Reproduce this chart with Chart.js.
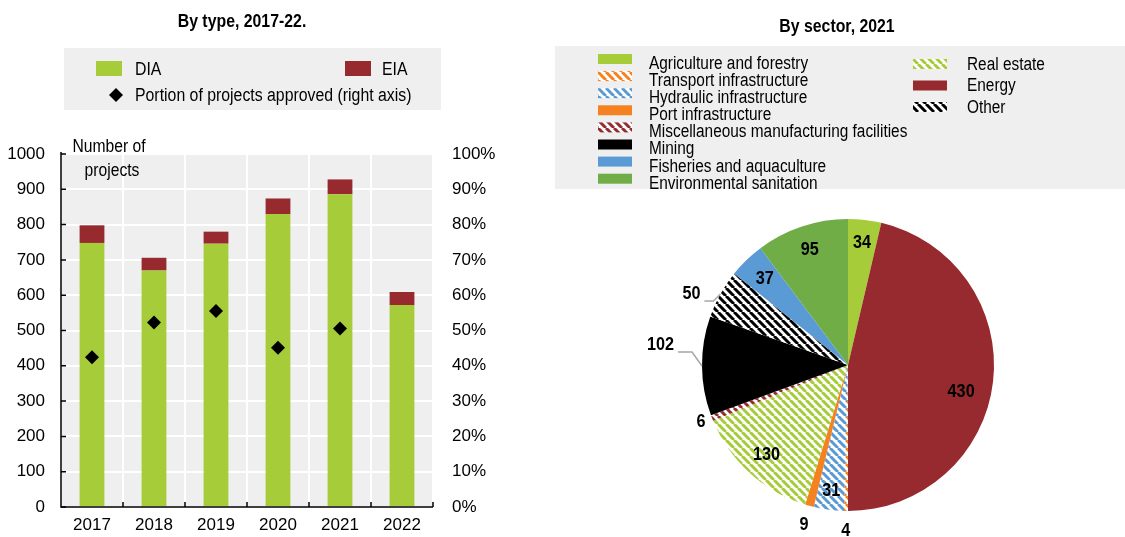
<!DOCTYPE html>
<html>
<head>
<meta charset="utf-8">
<script src="https://cdn.jsdelivr.net/npm/chart.js@4.4.1/dist/chart.umd.min.js"></script>
<style>
  body { margin: 0; background: #fff; width: 1125px; height: 537px; overflow: hidden; position: relative; }
  #typeChart { position: absolute; left: 0; top: 0; }
  #sectorChart { position: absolute; left: 550px; top: 0; }
</style>
</head>
<body>
<canvas id="typeChart" width="550" height="537"></canvas>
<canvas id="sectorChart" width="575" height="537"></canvas>
<script>
// --- data ---
const years = ['2017', '2018', '2019', '2020', '2021', '2022']
const diaProjects = [748, 670, 746, 830, 886, 572]
const eiaProjects = [50, 36, 34, 44, 42, 37]
const shareApproved = [42.4, 52.3, 55.5, 45.1, 50.6, null]
const countTicks = [0, 100, 200, 300, 400, 500, 600, 700, 800, 900, 1000]
const shareTicks = [0, 10, 20, 30, 40, 50, 60, 70, 80, 90, 100]

const sectors = ['Agriculture and forestry', 'Energy', 'Transport infrastructure', 'Hydraulic infrastructure',
  'Port infrastructure', 'Real estate', 'Miscellaneous manufacturing facilities', 'Mining', 'Other',
  'Fisheries and aquaculture', 'Environmental sanitation']
const sectorProjects = [34, 430, 4, 31, 9, 130, 6, 102, 50, 37, 95]
const legendCol1 = ['Agriculture and forestry', 'Transport infrastructure', 'Hydraulic infrastructure',
  'Port infrastructure', 'Miscellaneous manufacturing facilities', 'Mining', 'Fisheries and aquaculture',
  'Environmental sanitation']
const legendCol2 = ['Real estate', 'Energy', 'Other']

// --- styles ---
const FONT = "'Liberation Sans', Arial, sans-serif"
const GREEN = '#a7cc39'
const RED = '#962a2f'
const BLUE = '#5b9bd5'
const ENV_GREEN = '#70ad47'
const ORANGE = '#f58220'
const PANEL = '#efefef'

// no narrow font installed: squeeze text horizontally instead
function narrowText(ctx, text, x, y, font, align, sx) {
  ctx.save()
  ctx.font = font
  ctx.textAlign = align
  ctx.textBaseline = 'middle'
  ctx.translate(x, y)
  ctx.scale(sx, 1)
  ctx.fillText(text, 0, 0)
  ctx.restore()
}

function stripes(color) {
  const s = 8
  const c = document.createElement('canvas')
  c.width = s; c.height = s
  const g = c.getContext('2d')
  g.fillStyle = '#fff'
  g.fillRect(0, 0, s, s)
  g.strokeStyle = color
  g.lineWidth = 3
  g.beginPath()
  for (let k = -s; k <= s; k += s) {
    g.moveTo(k, 0)
    g.lineTo(k + s, s)
  }
  g.stroke()
  return g.createPattern(c, 'repeat')
}

const sectorFill = {
  'Agriculture and forestry': GREEN,
  'Energy': RED,
  'Transport infrastructure': stripes(ORANGE),
  'Hydraulic infrastructure': stripes(BLUE),
  'Port infrastructure': ORANGE,
  'Real estate': stripes(GREEN),
  'Miscellaneous manufacturing facilities': stripes(RED),
  'Mining': '#000',
  'Other': stripes('#000'),
  'Fisheries and aquaculture': BLUE,
  'Environmental sanitation': ENV_GREEN
}

// --- left panel: by type ---
const typeDecor = {
  id: 'typeDecor',
  beforeDraw(chart) {
    const { ctx, chartArea: a } = chart
    ctx.save()
    ctx.fillStyle = PANEL
    ctx.fillRect(a.left, a.top, a.right - a.left, a.bottom - a.top)
    ctx.restore()
  },
  afterDraw(chart) {
    const { ctx, chartArea: a } = chart
    const ds = chart.data.datasets
    ctx.save()
    // axes
    ctx.strokeStyle = '#000'
    ctx.lineWidth = 1.5
    ctx.beginPath()
    ctx.moveTo(a.left, a.top - 2)
    ctx.lineTo(a.left, a.bottom)
    ctx.lineTo(a.right, a.bottom)
    ctx.stroke()
    const y = chart.scales.y
    ctx.beginPath()
    countTicks.forEach(v => {
      const py = y.getPixelForValue(v)
      ctx.moveTo(a.left, py)
      ctx.lineTo(a.left + 5, py)
    })
    const n = years.length
    for (let i = 1; i <= n; i++) {
      const px = a.left + i * (a.right - a.left) / n
      ctx.moveTo(px, a.bottom)
      ctx.lineTo(px, a.bottom - 5)
    }
    ctx.stroke()

    ctx.fillStyle = '#000'
    narrowText(ctx, 'By type, 2017-22.', 242, 22, 'bold 18px ' + FONT, 'center', 0.88)
    narrowText(ctx, 'Number of', 109, 147, '18px ' + FONT, 'center', 0.87)
    narrowText(ctx, 'projects', 112, 171, '18px ' + FONT, 'center', 0.87)

    // legend
    ctx.fillStyle = PANEL
    ctx.fillRect(64, 48, 377, 62)
    ctx.fillStyle = ds[0].backgroundColor
    ctx.fillRect(96, 61, 26, 15)
    ctx.fillStyle = ds[1].backgroundColor
    ctx.fillRect(345, 61, 26, 15)
    ctx.fillStyle = '#000'
    narrowText(ctx, ds[0].label, 135, 70, '18px ' + FONT, 'left', 0.88)
    narrowText(ctx, ds[1].label, 382, 70, '18px ' + FONT, 'left', 0.88)
    ctx.beginPath()
    ctx.moveTo(116, 88); ctx.lineTo(123, 95); ctx.lineTo(116, 102); ctx.lineTo(109, 95)
    ctx.closePath()
    ctx.fill()
    narrowText(ctx, ds[2].label, 135, 96, '18px ' + FONT, 'left', 0.88)
    ctx.restore()
  }
}

const tickFont = { family: FONT, size: 17 }

new Chart(document.getElementById('typeChart'), {
  type: 'bar',
  data: {
    labels: years,
    datasets: [
      { label: 'DIA', data: diaProjects, backgroundColor: GREEN, stack: 'p', yAxisID: 'y',
        barPercentage: 0.4, categoryPercentage: 1, order: 2 },
      { label: 'EIA', data: eiaProjects, backgroundColor: RED, stack: 'p', yAxisID: 'y',
        barPercentage: 0.4, categoryPercentage: 1, order: 2 },
      { type: 'line', label: 'Portion of projects approved (right axis)', data: shareApproved, yAxisID: 'y1',
        showLine: false, pointStyle: 'rectRot', pointRadius: 7, pointBackgroundColor: '#000',
        pointBorderWidth: 0, order: 0 }
    ]
  },
  options: {
    responsive: false,
    animation: false,
    layout: { padding: { top: 154, left: 0, right: 0, bottom: 0 } },
    plugins: { legend: { display: false }, tooltip: { enabled: false } },
    scales: {
      x: {
        stacked: true,
        grid: { color: '#fff', lineWidth: 2, drawTicks: false, offset: true },
        border: { display: false },
        ticks: { color: '#000', font: tickFont, padding: 8 },
        afterFit: s => { s.height = 30 }
      },
      y: {
        stacked: true,
        position: 'left',
        min: 0, max: 1000,
        grid: { color: '#fff', lineWidth: 2, drawTicks: false },
        border: { display: false },
        ticks: { color: '#000', font: tickFont, padding: 16, callback: v => String(v) },
        afterBuildTicks: s => { s.ticks = countTicks.map(v => ({ value: v })) },
        afterFit: s => { s.width = 61 }
      },
      y1: {
        position: 'right',
        min: 0, max: 100,
        grid: { display: false, drawTicks: false },
        border: { display: false },
        ticks: { color: '#000', font: tickFont, padding: 19, callback: v => v + '%' },
        afterBuildTicks: s => { s.ticks = shareTicks.map(v => ({ value: v })) },
        afterFit: s => { s.width = 117 }
      }
    }
  },
  plugins: [typeDecor]
})

// --- right panel: by sector ---
const sectorDecor = {
  id: 'sectorDecor',
  afterDraw(chart, args, opts) {
    const { ctx } = chart
    const ds = chart.data.datasets[0]
    const fillOf = label => ds.backgroundColor[chart.data.labels.indexOf(label)]
    ctx.save()

    ctx.fillStyle = '#000'
    narrowText(ctx, 'By sector, 2021', 287, 27, 'bold 18px ' + FONT, 'center', 0.88)

    // legend
    ctx.fillStyle = PANEL
    ctx.fillRect(5, 46, 570, 143)
    legendCol1.forEach((lab, i) => {
      const cy = 59 + i * 17.1
      ctx.fillStyle = fillOf(lab)
      ctx.fillRect(48, cy - 5, 34, 10)
      ctx.fillStyle = '#000'
      narrowText(ctx, lab, 99, cy + 5, '18px ' + FONT, 'left', 0.855)
    })
    legendCol2.forEach((lab, i) => {
      const cy = 64 + i * 21.5
      ctx.fillStyle = fillOf(lab)
      ctx.fillRect(363, cy - 5, 34, 10)
      ctx.fillStyle = '#000'
      narrowText(ctx, lab, 417, cy + 1, '18px ' + FONT, 'left', 0.855)
    })

    // slice labels
    const lf = 'bold 18px ' + FONT
    const arcs = chart.getDatasetMeta(0).data
    arcs.forEach((arc, i) => {
      const o = opts.place[i]
      const mid = (arc.startAngle + arc.endAngle) / 2
      const r = arc.outerRadius
      const text = String(ds.data[i])
      ctx.fillStyle = '#000'
      if (o.leader) {
        const ex = arc.x + Math.cos(mid) * r
        const ey = arc.y + Math.sin(mid) * r
        const bx = ex + o.leader[0], by = ey + o.leader[1]
        const lx = bx - o.leader[2]
        ctx.strokeStyle = '#a6a6a6'
        ctx.lineWidth = 1.5
        ctx.beginPath()
        ctx.moveTo(ex, ey); ctx.lineTo(bx, by); ctx.lineTo(lx, by)
        ctx.stroke()
        narrowText(ctx, text, lx - 4, by - 7, lf, 'right', 0.9)
      } else {
        narrowText(ctx, text, arc.x + Math.cos(mid) * r * o.f + (o.dx || 0),
          arc.y + Math.sin(mid) * r * o.f + (o.dy || 0), lf, 'center', 0.9)
      }
    })
    ctx.restore()
  }
}

new Chart(document.getElementById('sectorChart'), {
  type: 'pie',
  data: {
    labels: sectors,
    datasets: [{ data: sectorProjects, backgroundColor: sectors.map(s => sectorFill[s]), borderWidth: 0 }]
  },
  options: {
    responsive: false,
    animation: false,
    layout: { padding: { left: 152, right: 131, top: 219, bottom: 26 } },
    plugins: {
      legend: { display: false },
      tooltip: { enabled: false },
      sectorDecor: {
        place: [
          { f: 0.84 }, { f: 0.78, dy: 14 }, { f: 1.14 }, { f: 0.87 }, { f: 1.14 }, { f: 0.83 },
          { f: 1.08 }, { leader: [-10, -14, 14] }, { leader: [-7, 7, 9] }, { f: 0.82 }, { f: 0.83 }
        ]
      }
    }
  },
  plugins: [sectorDecor]
})
</script>
</body>
</html>
